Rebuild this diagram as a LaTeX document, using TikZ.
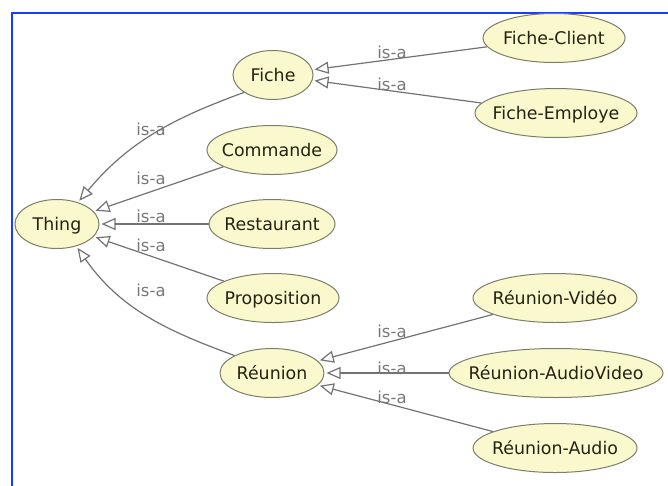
\documentclass[tikz,border=0pt]{standalone}
\usepackage{fontspec}
\setmainfont{DejaVu Sans}
\usetikzlibrary{arrows.meta,shapes.geometric}
\definecolor{nfill}{RGB}{250,249,205}
\definecolor{ndraw}{RGB}{125,125,105}
\definecolor{ntextc}{RGB}{35,35,20}
\definecolor{edgec}{RGB}{115,115,115}
\definecolor{lblc}{RGB}{120,120,120}
\definecolor{bluec}{RGB}{25,60,255}
\newcommand{\ntext}[1]{\makebox[0pt]{\raisebox{-0.365em}[0pt][0pt]{#1}}}
\begin{document}
\begin{tikzpicture}[x=1pt,y=-1pt,
  cls/.style={ellipse, draw=ndraw, fill=nfill, line width=1pt, inner sep=0pt,
    minimum height=49pt, font=\fontsize{17.4}{20}\selectfont, text=ntextc},
  isa/.style={draw=edgec, line width=1.2pt,
    -{Triangle[fill=white,length=14pt,width=12pt]}, shorten >=2pt},
  lbl/.style={font=\fontsize{16.5}{18}\selectfont, text=lblc, inner sep=0pt}]
\useasboundingbox (0,0) rectangle (668,485);
\fill[white] (0,0) rectangle (668,485);
\draw[bluec, line width=2pt] (12,490) -- (12,13) -- (672,13);

\node[cls, minimum width=84pt]  (thing)  at (57,224)  {\ntext{Thing}};
\node[cls, minimum width=80pt]  (fiche)  at (273,75)  {\ntext{Fiche}};
\node[cls, minimum width=130pt] (commande) at (272,150) {\ntext{Commande}};
\node[cls, minimum width=126pt] (restaurant) at (272,224) {\ntext{Restaurant}};
\node[cls, minimum width=132pt] (proposition) at (273,298) {\ntext{Proposition}};
\node[cls, minimum width=104pt] (reunion) at (272,373) {\ntext{Réunion}};
\node[cls, minimum width=142pt] (fclient) at (554,38) {\ntext{Fiche-Client}};
\node[cls, minimum width=162pt] (femploye) at (556,113) {\ntext{Fiche-Employe}};
\node[cls, minimum width=164pt] (rvideo) at (555,298) {\ntext{Réunion-Vidéo}};
\node[cls, minimum width=214pt] (raudiovideo) at (556,373) {\ntext{Réunion-AudioVideo}};
\node[cls, minimum width=164pt] (raudio) at (555,448) {\ntext{Réunion-Audio}};

\draw[isa] (fiche.211) to[out=200,in=50] (thing.46);
\draw[isa] (commande) -- (thing);
\draw[isa] (restaurant) -- (thing);
\draw[isa] (proposition) -- (thing);
\draw[isa] (reunion.155) to[out=160,in=-55] (thing.311);
\draw[isa] (fclient) -- (fiche);
\draw[isa] (femploye) -- (fiche);
\draw[isa] (rvideo) -- (reunion);
\draw[isa] (raudiovideo) -- (reunion);
\draw[isa] (raudio) -- (reunion);

\node[lbl] (l1) at (151,129) {is-a};
\node[lbl] (l2) at (151,178) {is-a};
\node[lbl] (l3) at (151,216) {is-a};
\node[lbl] (l4) at (151,245) {is-a};
\node[lbl] (l5) at (151,290) {is-a};
\node[lbl] (l6) at (392,52) {is-a};
\node[lbl] (l7) at (392,84) {is-a};
\node[lbl] (l8) at (392,331) {is-a};
\node[lbl] (l9) at (392,368) {is-a};
\node[lbl] (l10) at (392,397) {is-a};
\end{tikzpicture}
\end{document}
